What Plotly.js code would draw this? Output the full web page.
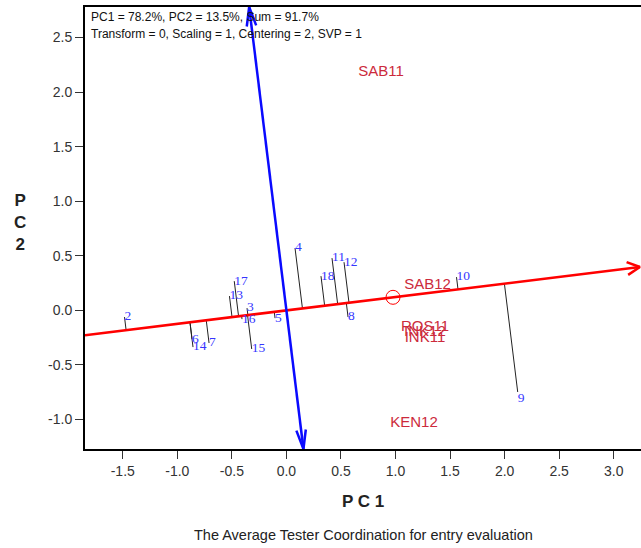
<!DOCTYPE html>
<html>
<head>
<meta charset="utf-8">
<script src="https://cdn.plot.ly/plotly-3.0.1.min.js"></script>
<style>html,body{margin:0;padding:0;background:#fff;}#chart{width:641px;height:548px;}</style>
</head>
<body>
<div id="chart"></div>
<script>
// ---- data ----
const entryLabels = ["2","3","4","5","6","7","8","9","10","11","12","13","14","15","16","17","18"];
const entryPC1 = [-1.484,-0.361,0.079,-0.104,-0.865,-0.709,0.565,2.120,1.559,0.418,0.528,-0.522,-0.856,-0.318,-0.407,-0.478,0.317];
const entryPC2 = [-0.061,0.021,0.571,-0.071,-0.264,-0.299,-0.061,-0.748,0.305,0.479,0.442,0.131,-0.336,-0.354,-0.080,0.268,0.314];

const testerLabels = ["SAB11","SAB12","ROS11","INK12","INK11","KEN12"];
const testerPC1 = [0.867,1.293,1.270,1.270,1.270,1.170];
const testerPC2 = [2.182,0.232,-0.150,-0.199,-0.254,-1.032];

const avgTester = [0.977, 0.120];   // average tester coordinate (circle)

const xTickVals = [-1.5,-1.0,-0.5,0.0,0.5,1.0,1.5,2.0,2.5,3.0];
const yTickVals = [-1.0,-0.5,0.0,0.5,1.0,1.5,2.0,2.5];

const infoLine1 = "PC1 = 78.2%, PC2 = 13.5%, Sum = 91.7%";
const infoLine2 = "Transform = 0, Scaling = 1, Centering = 2, SVP = 1";
const xTitle = "P C 1";
const yTitle = "P<br>C<br>2";
const caption = "The Average Tester Coordination for entry evaluation";

// ---- styling / geometry (not data) ----
const xRange = [-1.846, 3.25];
const yRange = [-1.27, 2.78];
const entryTextPos = entryLabels.map(l => l === "9" ? "bottom right" : "middle right");

// unit vector of the ATC abscissa and its perpendicular
const len = Math.hypot(avgTester[0], avgTester[1]);
const d = [avgTester[0]/len, avgTester[1]/len];
const n = [-d[1], d[0]];

// projections of entries on the ATC abscissa
const projX = [], projY = [];
entryPC1.forEach((x, i) => {
  const y = entryPC2[i];
  const t = x*d[0] + y*d[1];
  projX.push(x, t*d[0], null);
  projY.push(y, t*d[1], null);
});

// red ATC abscissa: from left border to right edge
const tRedStart = xRange[0]/d[0];
const tRedEnd = 3.24/d[0];
const redX = [tRedStart*d[0], tRedEnd*d[0]];
const redY = [tRedStart*d[1], tRedEnd*d[1]];

// blue ATC ordinate: from bottom border to top border
const tBlueStart = yRange[0]/n[1];
const tBlueEnd = yRange[1]/n[1];
const blueX = [tBlueStart*n[0], tBlueEnd*n[0]];
const blueY = [tBlueStart*n[1], tBlueEnd*n[1]];

function arrowHead(tipX, tipY, dirX, dirY, L, angDeg) {
  const a = angDeg*Math.PI/180;
  const bx = -dirX, by = -dirY;
  const r1 = [bx*Math.cos(a) - by*Math.sin(a), bx*Math.sin(a) + by*Math.cos(a)];
  const r2 = [bx*Math.cos(-a) - by*Math.sin(-a), bx*Math.sin(-a) + by*Math.cos(-a)];
  return {
    x: [tipX + L*r1[0], tipX, tipX + L*r2[0]],
    y: [tipY + L*r1[1], tipY, tipY + L*r2[1]]
  };
}
const redHead = arrowHead(redX[1], redY[1], d[0], d[1], 0.13, 27);
const blueHeadTop = arrowHead(blueX[1], blueY[1], n[0], n[1], 0.18, 14);
const blueHeadBot = arrowHead(blueX[0], blueY[0], -n[0], -n[1], 0.18, 14);

const traces = [
  {x: projX, y: projY, mode: "lines", line: {color: "#222", width: 1}, hoverinfo: "skip"},
  {x: redX, y: redY, mode: "lines", line: {color: "#ff0000", width: 2.5}, hoverinfo: "skip"},
  {x: redHead.x, y: redHead.y, mode: "lines", line: {color: "#ff0000", width: 2.5}, hoverinfo: "skip"},
  {x: blueX, y: blueY, mode: "lines", line: {color: "#0a0aff", width: 2.5}, hoverinfo: "skip"},
  {x: blueHeadTop.x, y: blueHeadTop.y, mode: "lines", line: {color: "#0a0aff", width: 2.5}, hoverinfo: "skip"},
  {x: blueHeadBot.x, y: blueHeadBot.y, mode: "lines", line: {color: "#0a0aff", width: 2.5}, hoverinfo: "skip"},
  {x: [avgTester[0]], y: [avgTester[1]], mode: "markers",
   marker: {symbol: "circle-open", size: 14, color: "#ff0000", line: {width: 1, color: "#ff0000"}}},
  {x: entryPC1, y: entryPC2, text: entryLabels, mode: "text", textposition: entryTextPos,
   textfont: {family: "Liberation Serif, Times New Roman, serif", size: 13.5, color: "#3535ff"}},
  {x: testerPC1, y: testerPC2, text: testerLabels, mode: "text", textposition: "middle center",
   textfont: {family: "Liberation Sans, Arial, sans-serif", size: 15, color: "#cc2a3c"}}
];

const axisFont = {family: "Liberation Sans, Arial, sans-serif", size: 14, color: "#333"};
const layout = {
  width: 641, height: 548,
  margin: {l: 85, r: 0, t: 7, b: 99},
  paper_bgcolor: "#fff", plot_bgcolor: "#fff",
  showlegend: false,
  hovermode: false,
  xaxis: {
    range: xRange, tickvals: xTickVals, ticktext: xTickVals.map(v => v.toFixed(1)),
    showgrid: false, zeroline: false, showline: true, linecolor: "#000", linewidth: 2, mirror: true,
    ticks: "outside", ticklen: 8, tickwidth: 1, tickcolor: "#333", tickfont: axisFont
  },
  yaxis: {
    range: yRange, tickvals: yTickVals, ticktext: yTickVals.map(v => v.toFixed(1)),
    showgrid: false, zeroline: false, showline: true, linecolor: "#000", linewidth: 2, mirror: false,
    ticks: "outside", ticklen: 8, tickwidth: 1, tickcolor: "#333", tickfont: axisFont
  },
  annotations: [
    {xref: "paper", yref: "paper", x: 0.007, y: 0.9774, xanchor: "left", yanchor: "middle", showarrow: false,
     text: infoLine1, font: {family: "Liberation Sans, Arial, sans-serif", size: 12, color: "#111"}},
    {xref: "paper", yref: "paper", x: 0.007, y: 0.9399, xanchor: "left", yanchor: "middle", showarrow: false,
     text: infoLine2, font: {family: "Liberation Sans, Arial, sans-serif", size: 12, color: "#111"}},
    {xref: "paper", yref: "paper", x: 0.5, y: -0.1198, xanchor: "center", yanchor: "middle", showarrow: false,
     text: "<b>" + xTitle + "</b>", font: {family: "Liberation Sans, Arial, sans-serif", size: 17, color: "#222"}},
    {xref: "paper", yref: "paper", x: -0.117, y: 0.513, xanchor: "center", yanchor: "middle", showarrow: false,
     text: "<b>" + yTitle + "</b>", font: {family: "Liberation Sans, Arial, sans-serif", size: 17, color: "#222"}},
    {xref: "paper", yref: "paper", x: 0.5, y: -0.1944, xanchor: "center", yanchor: "middle", showarrow: false,
     text: caption, font: {family: "Liberation Sans, Arial, sans-serif", size: 14.5, color: "#222"}}
  ]
};

Plotly.newPlot("chart", traces, layout, {staticPlot: true, displayModeBar: false});
</script>
</body>
</html>
